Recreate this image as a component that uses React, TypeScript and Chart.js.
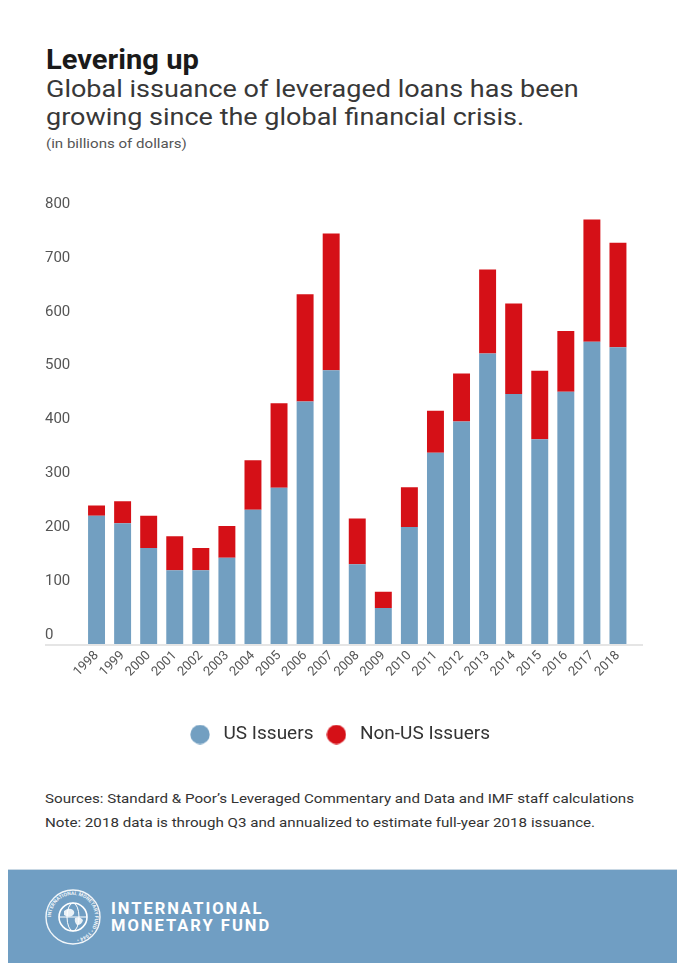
import React, { useEffect, useRef } from "react";
import { Chart, registerables } from "chart.js";

Chart.register(...registerables);

// ---- data ----
const years = [
  "1998", "1999", "2000", "2001", "2002", "2003", "2004", "2005", "2006", "2007",
  "2008", "2009", "2010", "2011", "2012", "2013", "2014", "2015", "2016", "2017", "2018",
];
const usIssuers = [238, 224, 178, 137, 137, 160, 249, 290, 450, 508, 148, 67, 217, 355, 413, 539, 464, 380, 468, 561, 551];
const nonUsIssuers = [19, 41, 60, 63, 41, 59, 92, 157, 199, 254, 85, 30, 74, 78, 89, 156, 168, 127, 113, 227, 194];
const seriesNames = ["US Issuers", "Non-US Issuers"];
const yMin = 0;
const yMax = 800;
const yStep = 100;

const BLUE = "#729fc1";
const RED = "#d51017";
const FONT = "Roboto";

function makeDot(color: string) {
  const c = document.createElement("canvas");
  c.width = 20;
  c.height = 20;
  const g = c.getContext("2d")!;
  g.fillStyle = color;
  g.beginPath();
  g.arc(10, 10, 9.7, 0, Math.PI * 2);
  g.fill();
  return c;
}

const baselinePlugin = {
  id: "baseline",
  beforeDatasetsDraw(chart: any) {
    const y = chart.scales.y.getPixelForValue(0);
    const ctx = chart.ctx;
    ctx.save();
    ctx.strokeStyle = "#dcdcdc";
    ctx.lineWidth = 1.5;
    ctx.beginPath();
    ctx.moveTo(45, y + 1);
    ctx.lineTo(643, y + 1);
    ctx.stroke();
    ctx.restore();
  },
};

function BarChart() {
  const ref = useRef<HTMLCanvasElement | null>(null);
  useEffect(() => {
    if (!ref.current) return;
    const dots = [makeDot(BLUE), makeDot(RED)];
    const chart = new Chart(ref.current, {
      type: "bar",
      data: {
        labels: years,
        datasets: [
          { label: seriesNames[0], data: usIssuers, backgroundColor: BLUE, barPercentage: 0.65, categoryPercentage: 1 },
          { label: seriesNames[1], data: nonUsIssuers, backgroundColor: RED, barPercentage: 0.65, categoryPercentage: 1 },
        ],
      },
      plugins: [baselinePlugin],
      options: {
        responsive: false,
        animation: false,
        layout: { padding: { left: 45, right: 46, top: 33, bottom: 0 } },
        plugins: {
          tooltip: { enabled: false },
          legend: {
            position: "bottom",
            labels: {
              usePointStyle: true,
              pointStyleWidth: 28,
              boxHeight: 19,
              padding: 9,
              color: "#333",
              font: { family: FONT, size: 19 },
              generateLabels: (c: any) =>
                (Chart.defaults.plugins.legend.labels as any)
                  .generateLabels(c)
                  .map((it: any) => ({ ...it, pointStyle: dots[it.datasetIndex] })),
            },
          },
        },
        scales: {
          x: {
            stacked: true,
            grid: { display: false, drawTicks: false },
            border: { display: false },
            ticks: {
              autoSkip: false,
              minRotation: 45,
              maxRotation: 45,
              padding: 4,
              color: "#555",
              font: { family: FONT, size: 13 },
            },
            afterFit: (s: any) => {
              s.height = 72;
            },
          },
          y: {
            stacked: true,
            min: yMin,
            max: yMax,
            grid: { display: false, drawTicks: false },
            border: { display: false },
            ticks: {
              stepSize: yStep,
              crossAlign: "far",
              labelOffset: -9,
              color: "#555",
              font: { family: FONT, size: 15 },
            },
            afterFit: (s: any) => {
              s.width = 38.5;
            },
          },
        },
      } as any,
    });
    return () => chart.destroy();
  }, []);
  return (
    <canvas
      ref={ref}
      width={677}
      height={574}
      style={{ position: "absolute", left: 0, top: 180, width: 677, height: 574 }}
    />
  );
}

function Seal() {
  return (
    <svg width="60" height="60" viewBox="0 0 60 60" style={{ position: "absolute", left: 43, top: 887 }}>
      <defs>
        <path id="sealArc" d="M30,30 m-22,0 a22,22 0 1,1 44,0 a22,22 0 1,1 -44,0" />
      </defs>
      <circle cx="30" cy="30" r="27" fill="none" stroke="#ffffff" strokeWidth="1.4" opacity="0.9" />
      <text fontFamily={FONT} fontSize="5" fill="#ffffff" fontWeight="bold" opacity="0.9">
        <textPath href="#sealArc">INTERNATIONAL MONETARY FUND • 1944 •</textPath>
      </text>
      <circle cx="30" cy="30" r="14" fill="none" stroke="#ffffff" strokeWidth="1.6" />
      <ellipse cx="30" cy="30" rx="6" ry="14" fill="none" stroke="#ffffff" strokeWidth="1" />
      <line x1="16" y1="30" x2="44" y2="30" stroke="#ffffff" strokeWidth="1" />
      <path d="M21 24 q5 -4 9 -1 q3 3 -1 6 q-4 2 -8 -1 z M32 31 q5 -2 8 2 q-1 5 -6 5 q-3 -3 -2 -7 z" fill="#ffffff" opacity="0.85" />
    </svg>
  );
}

export default function App() {
  return (
    <div
      style={{
        position: "absolute",
        left: 0,
        top: 0,
        width: 677,
        height: 963,
        overflow: "hidden",
        background: "#ffffff",
        fontFamily: FONT,
      }}
    >
      <div
        style={{
          position: "absolute", left: 46, top: 44.4, fontSize: 28, lineHeight: "32px",
          fontWeight: 700, color: "#1a1a1a", whiteSpace: "nowrap",
          transform: "scaleX(1.04)", transformOrigin: "left top",
        }}
      >
        Levering up
      </div>
      <div
        style={{
          position: "absolute", left: 46, top: 76.3, fontSize: 24, lineHeight: "27.5px",
          color: "#383838", whiteSpace: "nowrap",
          transform: "scaleX(1.125)", transformOrigin: "left top",
        }}
      >
        Global issuance of leveraged loans has been
        <br />
        growing since the global financial crisis.
      </div>
      <div
        style={{
          position: "absolute", left: 46, top: 136, fontSize: 13, lineHeight: "16px",
          color: "#555", whiteSpace: "nowrap",
          transform: "scaleX(1.16)", transformOrigin: "left top",
        }}
      >
        (in billions of dollars)
      </div>

      <BarChart />

      <div
        style={{
          position: "absolute", left: 45, top: 787, fontSize: 13, lineHeight: "24px",
          color: "#333", whiteSpace: "nowrap",
          transform: "scaleX(1.165)", transformOrigin: "left top",
        }}
      >
        Sources: Standard &amp; Poor’s Leveraged Commentary and Data and IMF staff calculations
        <br />
        Note: 2018 data is through Q3 and annualized to estimate full-year 2018 issuance.
      </div>

      <div
        style={{
          position: "absolute", left: 8, top: 869, width: 669, height: 94,
          background: "#709ec3", borderTop: "1px solid #c9d8e4",
        }}
      />
      <Seal />
      <div
        style={{
          position: "absolute", left: 111, top: 900, fontSize: 16.5, lineHeight: "17px",
          fontWeight: 700, color: "#ffffff", letterSpacing: "2px", whiteSpace: "nowrap",
        }}
      >
        INTERNATIONAL
        <br />
        MONETARY FUND
      </div>
    </div>
  );
}
